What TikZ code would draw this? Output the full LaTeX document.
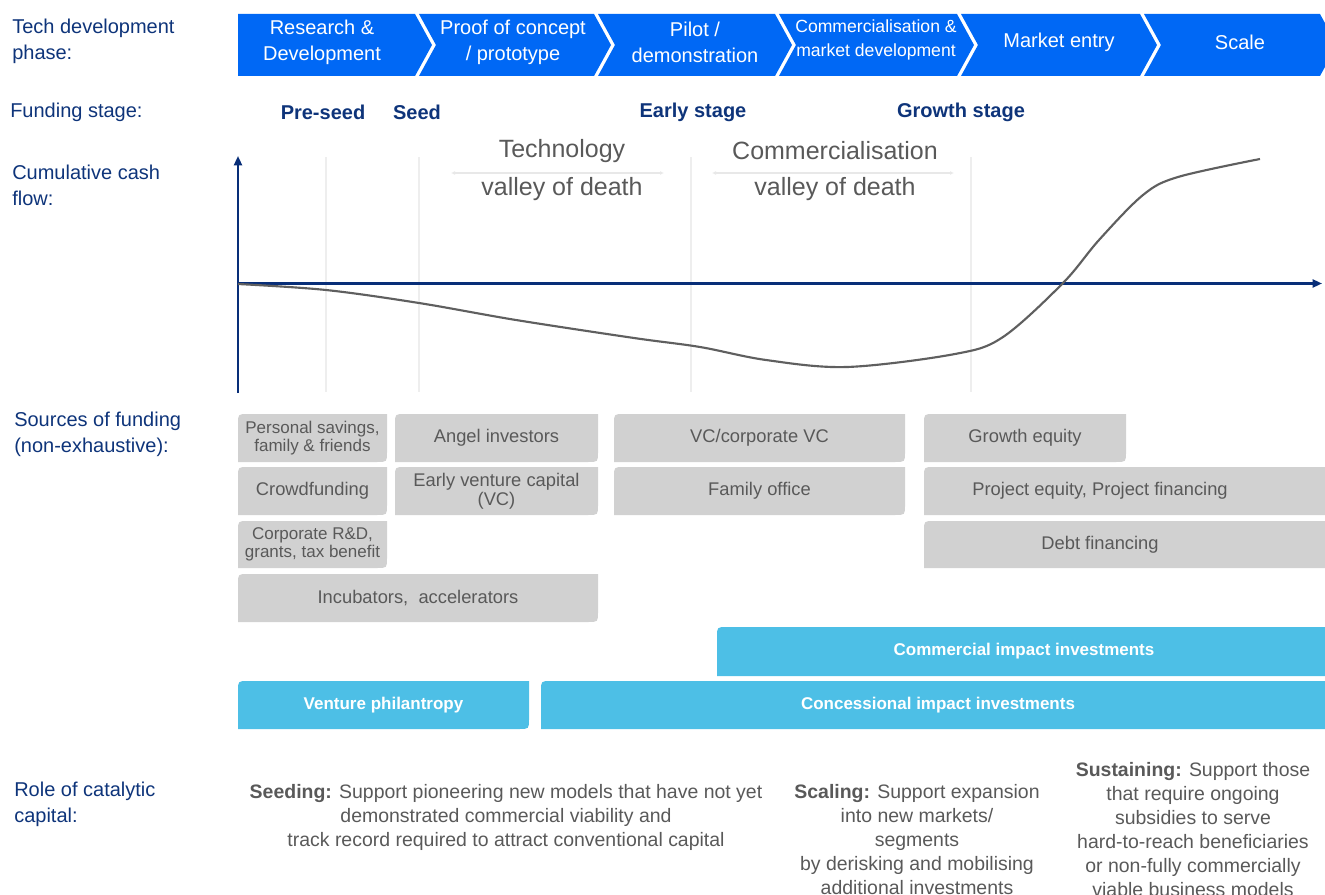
\documentclass[tikz,border=0pt]{standalone}
\usepackage{fontspec}
\setmainfont{Liberation Sans}
\usetikzlibrary{arrows.meta}
\definecolor{chev}{RGB}{0,104,245}
\definecolor{navy}{RGB}{14,52,122}
\definecolor{axisc}{RGB}{8,46,120}
\definecolor{gboxc}{RGB}{209,209,209}
\definecolor{gtext}{RGB}{89,89,89}
\definecolor{cboxc}{RGB}{77,191,230}
\definecolor{gridc}{RGB}{238,238,238}
\definecolor{curvec}{RGB}{95,95,95}
\definecolor{valc}{RGB}{232,232,232}
\newcommand{\chevshape}[2]{\fill[chev] (#1,14) -- (#2,14) -- ({#2+17},45) -- (#2,76) -- (#1,76) -- ({#1+17},45) -- cycle;}
\newcommand{\rdbox}[8]{%
  \fill[#6] (#2,#5) -- (#2,{#3+10}) .. controls (#2,#3) .. ({#2+10},#3) -- (#4,#3) -- (#4,{#5-10}) .. controls (#4,#5) .. ({#4-10},#5) -- cycle;
  \node[#7] (#1) at ({(#2+#4)/2},{(#3+#5)/2}) {#8};}
\begin{document}
\begin{tikzpicture}[x=0.75pt,y=-0.75pt,
  chevtext/.style={text=white,font=\fontsize{15}{19.5}\selectfont,align=center,inner sep=0pt},
  chevsmall/.style={text=white,font=\fontsize{13.2}{17.5}\selectfont,align=center,inner sep=0pt},
  lbl/.style={text=navy,font=\fontsize{15}{19.5}\selectfont,align=left,anchor=west,inner sep=0pt},
  stage/.style={text=navy,font=\bfseries\fontsize{15}{18}\selectfont,inner sep=0pt},
  valley/.style={text=gtext,font=\fontsize{18.75}{22}\selectfont,inner sep=0pt},
  gtxt/.style={text=gtext,font=\fontsize{13.75}{14.5}\selectfont,align=center,inner sep=0pt},
  gtxts/.style={text=gtext,font=\fontsize{12.75}{13.5}\selectfont,align=center,inner sep=0pt},
  ctxt/.style={text=white,font=\bfseries\fontsize{12.75}{15}\selectfont,inner sep=0pt},
  role/.style={text=gtext,font=\fontsize{14.6}{18}\selectfont,align=center,inner sep=0pt,anchor=north},
  gridline/.style={draw=gridc,line width=1.3pt},
  axisline/.style={draw=axisc,line width=1.6pt,-{Triangle[length=7pt,width=6pt]}},
  valarrow/.style={draw=valc,line width=1pt,{Latex[length=3pt,width=3pt]}-{Latex[length=3pt,width=3pt]}}
]
\useasboundingbox (0,0) rectangle (1325,895);

% chevrons
\fill[chev] (238,14) -- (415,14) -- (432,45) -- (415,76) -- (238,76) -- cycle;
\node[chevtext] (c1) at (322,42) {Research \&\\Development};
\chevshape{419}{594}
\node[chevtext] (c2) at (513,42) {Proof of concept\\/ prototype};
\chevshape{598}{775}
\node[chevtext] (c3) at (695,42) {Pilot /\\demonstration};
\chevshape{779}{957}
\node[chevsmall] (c4) at (876,40) {Commercialisation \&\\market development};
\chevshape{961}{1140}
\node[chevtext] (c5) at (1059,42) {Market entry};
\chevshape{1144}{1320}
\node[chevtext] (c6) at (1240,42) {Scale};

% left labels
\node[lbl] (l1) at (12,41.5) {Tech development\\phase:};
\node[lbl] (l2) at (10,112) {Funding stage:};
\node[lbl] (l3) at (12,185) {Cumulative cash\\flow:};
\node[lbl] (l4) at (14,434) {Sources of funding\\(non-exhaustive):};
\node[lbl] (l5) at (14,804) {Role of catalytic\\capital:};

% funding stages
\node[stage] (s1) at (323,112) {Pre-seed};
\node[stage] (s2) at (417,112) {Seed};
\node[stage] (s3) at (693,112) {Early stage};
\node[stage] (s4) at (961,112) {Growth stage};

% grid lines
\draw[gridline] (326,157) -- (326,392);
\draw[gridline] (419,157) -- (419,392);
\draw[gridline] (691,157) -- (691,392);
\draw[gridline] (971,157) -- (971,392);

% valley labels
\node[valley] (v1a) at (562,151) {Technology};
\node[valley] (v1b) at (562,189) {valley of death};
\node[valley] (v2a) at (835,151) {Commercialisation};
\node[valley] (v2b) at (835,189) {valley of death};
\coordinate (va1) at (451,173);
\coordinate (vb1) at (664,173);
\coordinate (va2) at (712,173);
\coordinate (vb2) at (954,173);
\draw[valarrow] (va1) -- (vb1);
\draw[valarrow] (va2) -- (vb2);

% axes
\coordinate (O) at (238,393);
\coordinate (Ytop) at (238,156);
\coordinate (X0) at (237,283.5);
\coordinate (Xend) at (1322,283.5);
\draw[axisline] (O) -- (Ytop);
\draw[axisline] (X0) -- (Xend);

% curve
\draw[curvec,line width=1.6pt] plot[smooth,tension=0.55] coordinates {
 (238,284) (326,290) (419,303) (516,320) (634,338) (700,347) (766,360)
 (847,367) (955,354) (1003,337) (1063,283) (1099,240) (1143,195) (1178,177) (1260,159)};

% sources of funding
\rdbox{b1}{238}{414}{387}{462}{gboxc}{gtxts}{Personal savings,\\family \& friends}
\rdbox{b2}{395}{414}{598}{462}{gboxc}{gtxt}{Angel investors}
\rdbox{b3}{238}{467}{387}{515}{gboxc}{gtxt}{Crowdfunding}
\rdbox{b4}{395}{467}{598}{515}{gboxc}{gtxt}{Early venture capital\\(VC)}
\rdbox{b5}{238}{521}{387}{568}{gboxc}{gtxts}{Corporate R\&D,\\grants, tax benefit}
\rdbox{b6}{238}{574}{598}{622}{gboxc}{gtxt}{Incubators,\ \ accelerators}
\rdbox{b7}{614}{414}{905}{462}{gboxc}{gtxt}{VC/corporate VC}
\rdbox{b8}{614}{467}{905}{515}{gboxc}{gtxt}{Family office}
\rdbox{b9}{924}{414}{1126}{462}{gboxc}{gtxt}{Growth equity}
\fill[gboxc] (924,515) -- (924,477) .. controls (924,467) .. (934,467) -- (1325,467) -- (1325,515) -- cycle;
\node[gtxt] (b10) at (1100,491) {Project equity, Project financing};
\fill[gboxc] (924,568) -- (924,531) .. controls (924,521) .. (934,521) -- (1325,521) -- (1325,568) -- cycle;
\node[gtxt] (b11) at (1100,544.5) {Debt financing};

% impact investments
\fill[cboxc] (717,676) -- (717,637) .. controls (717,627) .. (727,627) -- (1325,627) -- (1325,676) -- cycle;
\node[ctxt] (i1) at (1024,651) {Commercial impact investments};
\rdbox{i2}{238}{681}{529}{729}{cboxc}{ctxt}{Venture philantropy}
\fill[cboxc] (541,729) -- (541,691) .. controls (541,681) .. (551,681) -- (1325,681) -- (1325,729) -- cycle;
\node[ctxt] (i3) at (938,705) {Concessional impact investments};

% role of catalytic capital
\node[role] (r1) at (506,784) {\textbf{Seeding:} Support pioneering new models that have not yet\\demonstrated commercial viability and\\track record required to attract conventional capital};
\node[role] (r2) at (917,784) {\textbf{Scaling:} Support expansion\\into new markets/\\segments\\by derisking and mobilising\\additional investments};
\node[role] (r3) at (1193,762) {\textbf{Sustaining:} Support those\\that require ongoing\\subsidies to serve\\hard-to-reach beneficiaries\\or non-fully commercially\\viable business models};
\end{tikzpicture}
\end{document}
